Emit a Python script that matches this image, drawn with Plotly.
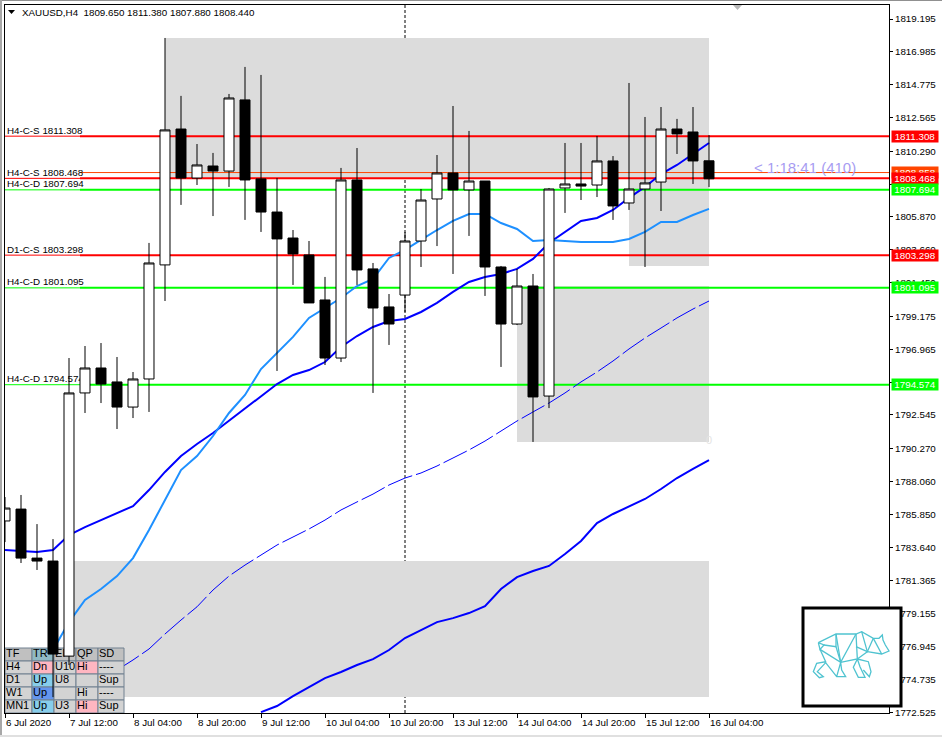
import plotly.graph_objects as go

# ---------- data ----------
TITLE = "XAUUSD,H4  1809.650 1811.380 1807.880 1808.440"
bars = list(range(45))
opens = [1785.40,1786.20,1782.90,1782.70,1776.30,1794.02,1795.70,1794.76,1793.07,1794.96,1802.64,1811.79,1808.49,1809.30,1808.96,1813.75,1808.43,1806.20,1804.45,1803.31,1800.28,1796.37,1808.36,1802.37,1799.81,1800.61,1804.25,1807.08,1808.83,1807.69,1808.29,1802.50,1798.66,1801.22,1793.81,1807.82,1808.09,1808.02,1809.64,1806.81,1807.75,1808.22,1811.79,1811.59,1809.65]
highs = [1787.01,1787.15,1785.19,1784.18,1796.37,1797.18,1797.38,1796.44,1795.43,1804.12,1817.92,1814.02,1810.78,1810.18,1814.15,1815.97,1815.43,1808.49,1804.99,1804.25,1801.83,1809.17,1810.51,1802.77,1800.68,1804.85,1807.75,1810.04,1813.34,1811.66,1808.29,1802.57,1802.37,1802.03,1807.82,1810.85,1810.85,1811.32,1809.97,1814.89,1812.60,1813.27,1812.47,1813.27,1811.38]
lows = [1783.98,1782.57,1782.10,1773.54,1775.70,1792.67,1793.34,1791.59,1792.33,1792.74,1800.21,1806.68,1808.02,1805.93,1807.89,1805.67,1804.86,1795.50,1801.29,1800.08,1795.90,1796.10,1801.29,1794.02,1797.25,1799.47,1802.50,1803.91,1802.03,1804.59,1800.55,1795.77,1798.59,1790.72,1793.00,1806.14,1807.01,1807.21,1805.67,1806.34,1802.50,1806.27,1810.11,1808.09,1807.88]
closes = [1786.27,1782.90,1782.70,1776.44,1794.02,1795.70,1794.62,1793.07,1794.96,1802.77,1811.73,1808.49,1809.37,1808.96,1813.88,1808.36,1806.20,1804.39,1803.38,1800.08,1796.37,1808.36,1802.30,1799.74,1798.66,1804.25,1807.01,1808.83,1807.69,1808.29,1802.50,1798.66,1801.22,1793.75,1807.75,1808.09,1807.95,1809.64,1806.61,1807.75,1808.16,1811.79,1811.46,1809.64,1808.44]

ma_fast = [1783.44,1783.38,1783.31,1783.44,1784.45,1784.99,1785.46,1785.93,1786.40,1787.48,1788.70,1789.77,1790.58,1791.32,1792.13,1792.94,1793.81,1794.62,1795.23,1795.56,1796.10,1797.11,1797.85,1798.46,1798.86,1799.00,1799.47,1800.08,1800.82,1801.49,1801.83,1802.03,1802.37,1803.04,1804.12,1804.86,1805.60,1805.80,1806.34,1807.15,1807.89,1808.76,1809.37,1810.11,1810.85]
ma_mid_start = 3
ma_mid = [1776.71,1778.59,1780.08,1780.82,1781.69,1782.90,1784.79,1786.81,1788.83,1789.77,1791.12,1792.67,1793.88,1795.63,1796.71,1797.79,1799.07,1799.74,1800.41,1801.22,1801.69,1803.11,1803.65,1804.32,1804.99,1805.60,1806.07,1806.07,1805.46,1805.06,1804.25,1804.32,1804.25,1804.18,1804.18,1804.18,1804.39,1804.86,1805.53,1805.53,1806.00,1806.41]
ma_dash_start = 7
ma_dash = [1775.36,1776.04,1776.78,1777.79,1778.73,1779.62,1780.75,1781.69,1782.43,1783.11,1783.78,1784.32,1784.86,1785.46,1786.14,1786.68,1787.21,1787.82,1788.29,1788.63,1789.10,1789.64,1790.18,1790.78,1791.46,1792.13,1792.74,1793.34,1794.02,1794.76,1795.43,1796.17,1796.98,1797.72,1798.39,1799.07,1799.67,1800.21]
ma_slow_start = 16
ma_slow = [1772.53,1772.94,1773.61,1774.22,1774.82,1775.23,1775.70,1776.10,1776.71,1777.52,1778.06,1778.59,1778.86,1779.20,1779.67,1780.82,1781.62,1782.03,1782.37,1783.17,1784.05,1785.26,1785.87,1786.40,1786.88,1787.55,1788.29,1788.90,1789.50]

zone_start = [10, 39, 32, 4]
zone_end = [44, 44, 44, 44]
zone_top = [1817.92, 1808.49, 1801.22, 1782.70]
zone_bottom = [1808.49, 1802.57, 1790.72, 1773.54]

level_names = ["H4-C-S", "H4-C-S", "H4-C-D", "D1-C-S", "H4-C-D", "H4-C-D"]
level_prices = [1811.308, 1808.468, 1807.694, 1803.298, 1801.095, 1794.574]
level_colors = ["#ff0000", "#ff0000", "#00ff00", "#ff0000", "#00ff00", "#00ff00"]
extra_level = 1808.858

y_ticks = [1819.195,1816.985,1814.775,1812.565,1810.290,1808.080,1805.870,1803.660,1801.450,1799.175,1796.965,1794.755,1792.545,1790.270,1788.060,1785.850,1783.640,1781.365,1779.155,1776.945,1774.735,1772.525]
y_ticks_covered = [1808.080, 1794.755]
x_tick_bars = [0, 4, 8, 12, 16, 20, 24, 28, 32, 36, 40, 44]
x_tick_text = ["6 Jul 2020","7 Jul 12:00","8 Jul 04:00","8 Jul 20:00","9 Jul 12:00","10 Jul 04:00","10 Jul 20:00","13 Jul 12:00","14 Jul 04:00","14 Jul 20:00","15 Jul 12:00","16 Jul 04:00"]
separator_bar = 25

table_rows = [
    ["TF", "TR", "EI", "QP", "SD"],
    ["H4", "Dn", "U10", "Hi", "----"],
    ["D1", "Up", "U8", "", "Sup"],
    ["W1", "Up", "", "Hi", "----"],
    ["MN1", "Up", "U3", "Hi", "Sup"],
]
table_fill = [
    ["#c0c0c0", "#8fb9c4", "#c0c0c0", "#c0c0c0", "#c0c0c0"],
    ["#d3d3d3", "#ffb6c1", "#d3d3d3", "#ffb6c1", "#d3d3d3"],
    ["#d3d3d3", "#87ceeb", "#d3d3d3", "#d3d3d3", "#d3d3d3"],
    ["#d3d3d3", "#6495ed", "#d3d3d3", "#d3d3d3", "#d3d3d3"],
    ["#d3d3d3", "#87ceeb", "#d3d3d3", "#ffb6c1", "#d3d3d3"],
]

# ---------- layout geometry ----------
W, H = 942, 737
L, R, T, B = 5, 889, 5, 713
BAR_PX = 16.0
X_RANGE = [0, (R - L) / BAR_PX]
Y_RANGE = [1772.47, 1820.14]
FONT = "Liberation Sans, Arial"
SMALL = 9.8


def bar_of(px):
    return (px - L) / BAR_PX


def price_of(py):
    return Y_RANGE[1] - (py - T) * (Y_RANGE[1] - Y_RANGE[0]) / (B - T)


def pxp(px):
    return (px - L) / (R - L)


def pyp(py):
    return 1 - (py - T) / (B - T)


fig = go.Figure()
shapes = []

# zones
for s, e, t, b in zip(zone_start, zone_end, zone_top, zone_bottom):
    shapes.append(dict(type="rect", layer="below", xref="x", yref="y", x0=s, x1=e, y0=b, y1=t,
                       fillcolor="#dcdcdc", line_width=0))

# levels
split = bar_of(80)
for p, c in zip(level_prices, level_colors):
    shapes.append(dict(type="line", layer="below", xref="x", yref="y", x0=0, x1=split, y0=p, y1=p,
                       line=dict(color=c, width=1)))
    shapes.append(dict(type="line", layer="below", xref="x", yref="y", x0=split, x1=X_RANGE[1], y0=p, y1=p,
                       line=dict(color=c, width=2)))
shapes.append(dict(type="line", layer="below", xref="x", yref="y", x0=split, x1=X_RANGE[1],
                   y0=extra_level, y1=extra_level, line=dict(color="#ff4500", width=1)))
shapes.append(dict(type="line", layer="below", xref="x", yref="paper", x0=separator_bar, x1=separator_bar,
                   y0=0, y1=1, line=dict(color="#000000", width=1, dash="3px,2px")))

# moving averages (base axes, under the candles)
fig.add_trace(go.Scatter(x=bars, y=ma_fast, mode="lines", line=dict(color="#0000ff", width=2),
                         hoverinfo="skip", showlegend=False))
fig.add_trace(go.Scatter(x=bars[ma_mid_start:], y=ma_mid, mode="lines", line=dict(color="#1e90ff", width=2),
                         hoverinfo="skip", showlegend=False))
fig.add_trace(go.Scatter(x=bars[ma_dash_start:], y=ma_dash, mode="lines",
                         line=dict(color="#0000ff", width=1, dash="26px,4px"),
                         hoverinfo="skip", showlegend=False))
fig.add_trace(go.Scatter(x=bars[ma_slow_start:], y=ma_slow, mode="lines", line=dict(color="#0000ff", width=2),
                         hoverinfo="skip", showlegend=False))

# level labels
fig.add_trace(go.Scatter(
    x=[bar_of(7)] * len(level_prices), y=level_prices, mode="text",
    text=[f"{n} {p:.3f}" for n, p in zip(level_names, level_prices)],
    textposition="top right", textfont=dict(family=FONT, size=SMALL, color="#000000"),
    hoverinfo="skip", showlegend=False))

# signal table (cells under the candles)
col_px = [5, 32, 54, 76, 98, 124]
row_px = [648, 661, 674, 687, 700, 713]
for r in range(5):
    for c in range(5):
        x0, x1 = bar_of(col_px[c]), bar_of(col_px[c + 1])
        y0, y1 = price_of(row_px[r]), price_of(row_px[r + 1])
        fig.add_trace(go.Scatter(x=[x0, x1, x1, x0, x0], y=[y0, y0, y1, y1, y0], mode="lines", fill="toself",
                                 fillcolor=table_fill[r][c], line=dict(color="#708090", width=1),
                                 hoverinfo="skip", showlegend=False))
txt_x, txt_y, txt = [], [], []
for r in range(5):
    for c in range(5):
        txt_x.append(bar_of(col_px[c] + 1))
        txt_y.append(price_of((row_px[r] + row_px[r + 1]) / 2))
        txt.append(table_rows[r][c])
fig.add_trace(go.Scatter(x=txt_x, y=txt_y, text=txt, mode="text", textposition="middle right",
                         textfont=dict(family=FONT, size=11, color="#000000"),
                         hoverinfo="skip", showlegend=False))

# candles on an overlaid axis pair so they sit above lines and table
fig.add_trace(go.Candlestick(
    x=bars, open=opens, high=highs, low=lows, close=closes, xaxis="x2", yaxis="y2",
    increasing=dict(fillcolor="#ffffff", line=dict(color="#000000", width=1)),
    decreasing=dict(fillcolor="#000000", line=dict(color="#000000", width=1)),
    whiskerwidth=0, hoverinfo="skip", showlegend=False))

# logo box
shapes.append(dict(type="rect", layer="above", xref="paper", yref="paper",
                   x0=pxp(803), x1=pxp(901), y0=pyp(706), y1=pyp(608),
                   fillcolor="#ffffff", line=dict(color="#000000", width=3)))
bear = [
    [(115,158),(168,132),(228,132),(245,125),(280,145),(297,145),(307,135),(309,150),(316,165),(327,183),(305,192),(262,185)],
    [(115,158),(132,165),(120,178),(115,158)],
    [(132,165),(168,170),(168,132)],
    [(168,132),(182,217),(228,132)],
    [(120,178),(182,217),(232,207),(228,132)],
    [(168,170),(182,217)],
    [(120,178),(137,215),(110,220),(100,245),(118,263),(130,260),(112,245),(137,218),(170,260),(197,260),(185,240),(182,217),(170,260)],
    [(232,207),(262,185),(245,125)],
    [(228,170),(262,185),(280,145)],
    [(305,192),(280,145)],
    [(232,207),(220,232),(235,262),(255,262),(240,230),(232,207)],
    [(232,207),(265,215),(273,245),(268,260),(250,240)],
]
for poly in bear:
    path = ""
    for i, (zx, zy) in enumerate(poly):
        path += ("M" if i == 0 else "L") + f"{pxp(zx / 3 + 780):.5f},{pyp(zy / 3 + 590):.5f} "
    shapes.append(dict(type="path", layer="above", xref="paper", yref="paper", path=path,
                       line=dict(color="#4fc3d0", width=1.3)))

# window frame
shapes.append(dict(type="rect", layer="below", xref="paper", yref="paper",
                   x0=pxp(0), x1=pxp(W), y0=pyp(1), y1=pyp(0), fillcolor="#909090", line_width=0))
shapes.append(dict(type="rect", layer="below", xref="paper", yref="paper",
                   x0=pxp(0), x1=pxp(2), y0=pyp(H), y1=pyp(0), fillcolor="#a8a8a8", line_width=0))
shapes.append(dict(type="rect", layer="below", xref="paper", yref="paper",
                   x0=pxp(0), x1=pxp(W), y0=pyp(H), y1=pyp(H - 2), fillcolor="#e0e0e0", line_width=0))
# header and shift markers
shapes.append(dict(type="path", layer="above", xref="paper", yref="paper", fillcolor="#000000", line_width=0,
                   path=f"M{pxp(8)},{pyp(10)} L{pxp(15)},{pyp(10)} L{pxp(11.5)},{pyp(14)} Z"))
shapes.append(dict(type="path", layer="above", xref="paper", yref="paper", fillcolor="#b8b8b8", line_width=0,
                   path=f"M{pxp(733)},{pyp(5)} L{pxp(742)},{pyp(5)} L{pxp(737.5)},{pyp(10)} Z"))

annotations = [
    dict(xref="paper", yref="paper", x=pxp(20), y=pyp(12), text=TITLE, showarrow=False, xanchor="left",
         yanchor="middle", font=dict(family=FONT, size=SMALL, color="#000000")),
    dict(xref="paper", yref="paper", x=pxp(752), y=pyp(167), text="< 1:18:41 (410)", showarrow=False, xanchor="left",
         yanchor="middle", font=dict(family=FONT, size=15, color="#a79cf2")),
    dict(xref="paper", yref="paper", x=pxp(709), y=pyp(440), text="0", showarrow=False, xanchor="center",
         yanchor="middle", font=dict(family=FONT, size=11, color="#e4e4e4")),
]
box_items = [(extra_level, "#ff4500", "#ffffff")] + [
    (p, c, "#ffffff") for p, c in zip(level_prices, level_colors)]
for p, bg, fg in box_items:
    annotations.append(dict(xref="paper", yref="y", x=pxp(891), y=p, text=f"{p:.3f}", showarrow=False,
                            xanchor="left", yanchor="middle", width=46, height=11, borderpad=0,
                            align="center", bgcolor=bg, font=dict(family=FONT, size=SMALL, color=fg)))

fig.update_layout(
    width=W, height=H, autosize=False, showlegend=False,
    margin=dict(l=L, r=W - R, t=T, b=H - B, pad=0),
    paper_bgcolor="#ffffff", plot_bgcolor="#ffffff",
    boxgap=0.21, boxgroupgap=0.21,
    xaxis=dict(range=X_RANGE, tickmode="array", tickvals=x_tick_bars, ticktext=x_tick_text, automargin=False,
               ticks="outside", ticklen=4, tickcolor="#000000", showgrid=False, zeroline=False,
               showline=True, linecolor="#000000", linewidth=1, mirror=True,
               ticklabelposition="outside right", tickangle=0,
               tickfont=dict(family=FONT, size=SMALL, color="#000000"), fixedrange=True),
    yaxis=dict(range=Y_RANGE, side="right", tickmode="array", tickvals=y_ticks, automargin=False,
               ticktext=["" if v in y_ticks_covered else f"{v:.3f}" for v in y_ticks],
               ticks="outside", ticklen=3, tickcolor="#000000",
               showgrid=False, zeroline=False, showline=True, linecolor="#000000", linewidth=1, mirror=True,
               tickfont=dict(family=FONT, size=SMALL, color="#000000"), fixedrange=True),
    xaxis2=dict(range=X_RANGE, overlaying="x", anchor="y", visible=False, rangeslider=dict(visible=False),
                fixedrange=True, automargin=False),
    yaxis2=dict(range=Y_RANGE, overlaying="y", anchor="x", visible=False, fixedrange=True, automargin=False),
    shapes=shapes, annotations=annotations,
)

fig.write_html("out.html", config=dict(displayModeBar=False),
               post_script="document.body.style.margin='0';")
